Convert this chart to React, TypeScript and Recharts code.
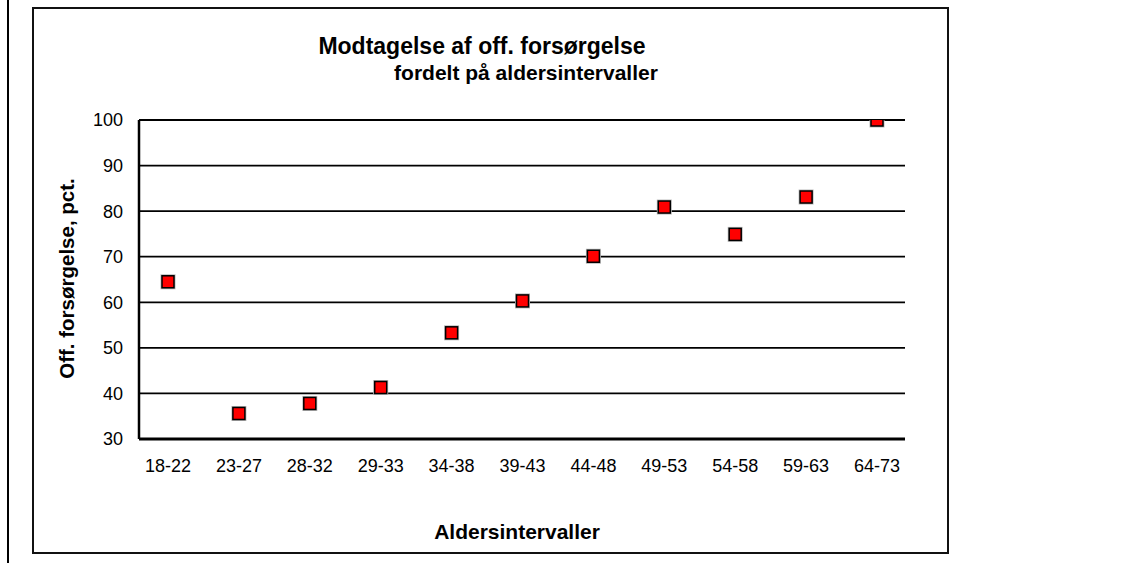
import { ScatterChart, Scatter, XAxis, YAxis, CartesianGrid } from "recharts";

const AGE_GROUPS = ["18-22", "23-27", "28-32", "29-33", "34-38", "39-43", "44-48", "49-53", "54-58", "59-63", "64-73"];
const SUPPORT_PCT = [64.5, 35.6, 37.8, 41.3, 53.3, 60.3, 70.1, 80.9, 74.9, 83.1, 100];
const Y_TICKS = [30, 40, 50, 60, 70, 80, 90, 100];

const data = AGE_GROUPS.map((group, i) => ({ group, pct: SUPPORT_PCT[i] }));

const FONT = "'Liberation Sans', Arial, sans-serif";

function SquareMarker(props: any) {
  const { cx, cy } = props;
  if (cx == null || cy == null) return null;
  return (
    <g>
      <rect x={cx - 7.5} y={cy - 7.5} width={15} height={15} fill="#b8b8b8" />
      <rect x={cx - 6} y={cy - 6} width={12} height={12} fill="#ff0000" stroke="#000" strokeWidth={1.5} />
    </g>
  );
}

export default function App() {
  return (
    <div style={{ position: "absolute", left: 0, top: 0, width: 1133, height: 563, background: "#fff", fontFamily: FONT }}>
      <div style={{ position: "absolute", left: 7, top: 0, width: 2, height: 563, background: "#000" }} />
      <div
        style={{
          position: "absolute",
          left: 32,
          top: 7,
          width: 917,
          height: 547,
          border: "2px solid #111",
          boxSizing: "border-box",
        }}
      />
      <div style={{ position: "absolute", left: 282, width: 400, top: 32, textAlign: "center", fontWeight: "bold", fontSize: 23, lineHeight: "28px" }}>
        Modtagelse af off. forsørgelse
      </div>
      <div style={{ position: "absolute", left: 326, width: 400, top: 61, textAlign: "center", fontWeight: "bold", fontSize: 21, lineHeight: "24px" }}>
        fordelt på aldersintervaller
      </div>
      <div style={{ position: "absolute", left: 0, top: 0 }}>
        <ScatterChart width={1133} height={563} margin={{ top: 120, right: 228, bottom: 64, left: 79 }}>
          <CartesianGrid vertical={false} stroke="#000" strokeWidth={1.8} />
          <XAxis
            dataKey="group"
            type="category"
            scale="point"
            allowDuplicatedCategory={false}
            padding={{ left: 29, right: 28 }}
            height={60}
            tickLine={false}
            tickMargin={14}
            axisLine={{ stroke: "#000", strokeWidth: 3 }}
            tick={{ fill: "#000", fontSize: 18, fontFamily: FONT }}
            label={(p: any) => {
              const vb = p.viewBox;
              return (
                <text
                  x={vb.x + vb.width / 2 - 5}
                  y={vb.y + 92}
                  textAnchor="middle"
                  dominantBaseline="central"
                  fontWeight="bold"
                  fontSize={21}
                  fontFamily={FONT}
                  fill="#000"
                >
                  Aldersintervaller
                </text>
              );
            }}
          />
          <YAxis
            dataKey="pct"
            type="number"
            domain={[30, 100]}
            ticks={Y_TICKS}
            allowDataOverflow
            width={60}
            tickLine={false}
            tickMargin={10}
            axisLine={{ stroke: "#000", strokeWidth: 2.5 }}
            tick={{ fill: "#000", fontSize: 18, fontFamily: FONT }}
            label={(p: any) => {
              const vb = p.viewBox;
              const x = 66;
              const y = vb.y + vb.height / 2 - 1;
              return (
                <text
                  x={x}
                  y={y}
                  transform={`rotate(-90, ${x}, ${y})`}
                  textAnchor="middle"
                  dominantBaseline="central"
                  fontWeight="bold"
                  fontSize={20.5}
                  fontFamily={FONT}
                  fill="#000"
                >
                  Off. forsørgelse, pct.
                </text>
              );
            }}
          />
          <YAxis
            yAxisId="frame"
            orientation="right"
            domain={[30, 100]}
            width={0}
            tick={false}
            tickLine={false}
            axisLine={{ stroke: "#000", strokeWidth: 2.5 }}
          />
          <Scatter data={data} dataKey="pct" shape={SquareMarker} isAnimationActive={false} />
        </ScatterChart>
      </div>
    </div>
  );
}
